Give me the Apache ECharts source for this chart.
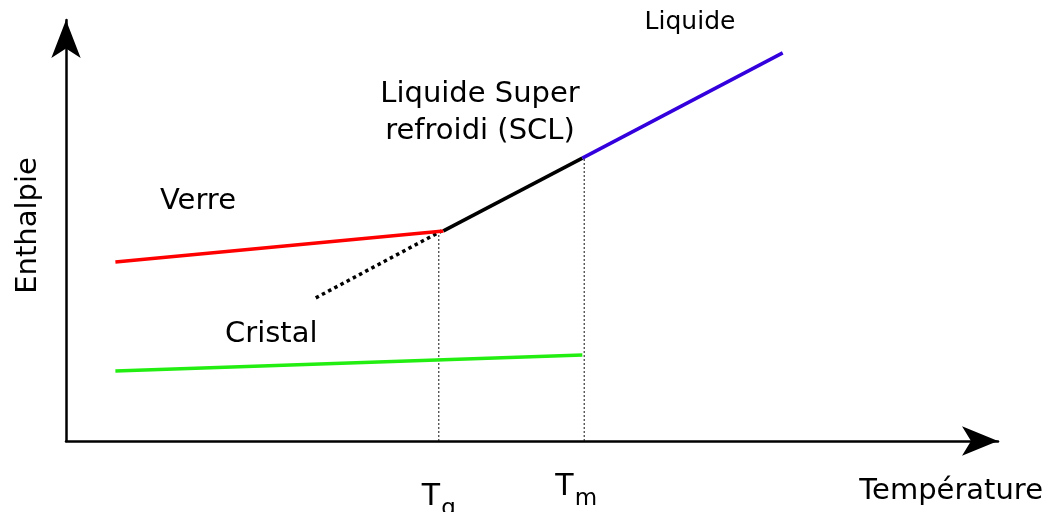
<!DOCTYPE html>
<html>
<head>
<meta charset="utf-8">
<script src="https://cdn.jsdelivr.net/npm/echarts@6/dist/echarts.min.js"></script>
<style>html,body{margin:0;padding:0;background:#fff}#c{width:1051px;height:512px}</style>
</head>
<body>
<div id="c"></div>
<script>
// ---- data (arbitrary schematic units, 0..100 on both axes) ----
const tickValues = [40.0, 55.6];
const tickSubscripts = ['g', 'm'];
const verre = [[5.3, 42.5], [40.5, 49.9]];
const cristal = [[5.3, 16.6], [55.4, 20.4]];
const scl = [[40.5, 49.9], [55.4, 67.2]];
const liquide = [[55.4, 67.2], [76.9, 92.2]];
const sclExtrapolated = [[26.8, 34.0], [40.3, 49.9]];
const tgLine = [[40.0, 0], [40.0, 49.6]];
const tmLine = [[55.6, 0], [55.6, 67.0]];
const annotations = ['Verre', 'Cristal', 'Liquide Super\nrefroidi (SCL)', 'Liquide'];
const axisNames = ['Température', 'Enthalpie'];

const FONT = 'DejaVu Sans';
const chart = echarts.init(document.getElementById('c'), null, {renderer: 'canvas'});

function lineSeries(name, data, color, width, type) {
  return {
    name: name, type: 'line', data: data, symbol: 'none', silent: true,
    lineStyle: {color: color, width: width, type: type || 'solid', cap: 'butt'},
    z: type && type !== 'solid' ? 1 : 2
  };
}

function nearestTick(v) {
  let best = 0;
  for (let i = 1; i < tickValues.length; i++) {
    if (Math.abs(tickValues[i] - v) < Math.abs(tickValues[best] - v)) best = i;
  }
  return best;
}

const option = {
  animation: false,
  grid: {left: 66, right: 53, top: 20, bottom: 71, containLabel: false, outerBoundsMode: 'none'},
  xAxis: {
    type: 'value', min: 0, max: 100,
    name: axisNames[0], nameLocation: 'end', nameGap: 45,
    nameTextStyle: {fontFamily: FONT, fontSize: 29, color: '#000', align: 'right', verticalAlign: 'top', padding: [36, 0, 0, 0]},
    axisLine: {show: true, symbol: ['none', 'arrow'], symbolSize: [22, 36], lineStyle: {color: '#000', width: 2.5}},
    axisTick: {show: false},
    splitLine: {show: false},
    axisLabel: {
      show: true, customValues: tickValues, margin: 31, hideOverlap: false,
      formatter: function (v) {
        const idx = nearestTick(Number(v));
        return idx === 0
          ? '{Tlow|T}{slow|' + tickSubscripts[0] + '}'
          : '{T|T}{s|' + tickSubscripts[1] + '}';
      },
      rich: {
        T: {fontFamily: FONT, fontSize: 30, lineHeight: 30, color: '#000', verticalAlign: 'top'},
        s: {fontFamily: FONT, fontSize: 23, lineHeight: 23, color: '#000', verticalAlign: 'top', padding: [16, 16, 0, 1]},
        Tlow: {fontFamily: FONT, fontSize: 30, lineHeight: 30, color: '#000', verticalAlign: 'top', padding: [10, 0, 0, 0]},
        slow: {fontFamily: FONT, fontSize: 23, lineHeight: 23, color: '#000', verticalAlign: 'top', padding: [26, 0, 0, 1]}
      }
    }
  },
  yAxis: {
    type: 'value', min: 0, max: 100,
    name: axisNames[1], nameLocation: 'middle', nameRotate: 90, nameGap: 23,
    nameTextStyle: {fontFamily: FONT, fontSize: 29, color: '#000', padding: [0, 0, 0, 10]},
    axisLine: {show: true, symbol: ['none', 'arrow'], symbolSize: [22, 38], lineStyle: {color: '#000', width: 2.5}},
    axisTick: {show: false},
    axisLabel: {show: false},
    splitLine: {show: false}
  },
  series: [
    lineSeries('Tg', tgLine, '#111', 1, [2, 2]),
    lineSeries('Tm', tmLine, '#111', 1, [2, 2]),
    lineSeries('SCL extrapolé', sclExtrapolated, '#000', 3.5, [3.5, 3.5]),
    lineSeries('Verre', verre, '#ff0000', 3.5),
    lineSeries('Cristal', cristal, '#22ee11', 3.5),
    lineSeries('SCL', scl, '#000000', 3.5),
    lineSeries('Liquide', liquide, '#3300dd', 3.5)
  ],
  graphic: [
    {type: 'text', left: 160, top: 187, style: {text: annotations[0], font: '29px "DejaVu Sans"', fill: '#000'}},
    {type: 'text', left: 225, top: 320, style: {text: annotations[1], font: '29px "DejaVu Sans"', fill: '#000'}},
    {type: 'text', x: 480, y: 113, style: {text: annotations[2], font: '29px "DejaVu Sans"', fill: '#000', align: 'center', verticalAlign: 'middle', lineHeight: 37}},
    {type: 'text', x: 690, y: 22, style: {text: annotations[3], font: '25px "DejaVu Sans"', fill: '#000', align: 'center', verticalAlign: 'middle'}}
  ]
};
chart.setOption(option);
</script>
</body>
</html>
